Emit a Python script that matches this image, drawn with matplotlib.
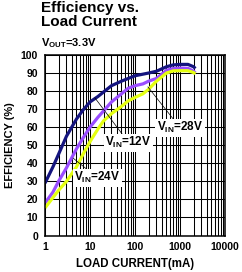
import matplotlib
matplotlib.use("Agg")
import matplotlib.pyplot as plt
from matplotlib.ticker import FixedLocator, NullFormatter, LogLocator

plt.rcParams['font.family'] = ['Liberation Sans', 'DejaVu Sans']
plt.rcParams['font.weight'] = 'bold'
plt.rcParams['mathtext.fontset'] = 'custom'
plt.rcParams['mathtext.rm'] = 'Liberation Sans:bold'
plt.rcParams['mathtext.bf'] = 'Liberation Sans:bold'
plt.rcParams['mathtext.it'] = 'Liberation Sans:bold'

# Data (load current in mA, efficiency in %)
x_12v = [1, 1.5, 2, 3, 5, 7, 10, 15, 20, 30, 50, 100, 200, 300, 500, 700, 1000, 1500, 2000, 2200]
eff_12v = [29, 38, 45, 55, 64.5, 69.5, 74, 77, 79.5, 83, 85.5, 88.5, 90, 91, 93.5, 94.5, 94.8, 94.8, 93.5, 92.5]

x_24v = [1, 1.5, 2, 3, 5, 7, 10, 15, 20, 30, 50, 70, 100, 150, 200, 300, 500, 700, 1000, 1500, 2000, 2200]
eff_24v = [18, 24, 30, 37.5, 48, 54, 60, 65.5, 69, 74, 78.5, 81.5, 83, 84, 85.5, 87, 91.5, 92.5, 92.8, 92.6, 91, 90]

x_28v = [1, 1.5, 2, 3, 5, 7, 10, 15, 20, 30, 50, 70, 100, 150, 200, 300, 500, 700, 1000, 1500, 2000, 2200]
eff_28v = [15.3, 21, 25, 30, 38, 45, 52, 59, 63.5, 67.5, 71.5, 74.5, 76.5, 78.5, 81, 85.5, 90, 91.2, 91.3, 91.3, 90.3, 89.5]

x_ticks = [1, 10, 100, 1000, 10000]
x_tick_labels = ['1', '10', '100', '1000', '10000']
y_ticks = list(range(0, 101, 10))

series_labels = [r'V$_\mathrm{IN}$=12V', r'V$_\mathrm{IN}$=24V', r'V$_\mathrm{IN}$=28V']
label_pos = [(72, 51.5), (14.7, 31.9), (1000, 59.8)]
leader_start = [(12.9, 76.2), (4.2, 42.9), (194, 82.3)]

colors = ['#14147e', '#9a4dff', '#e4ff10']

fig = plt.figure(figsize=(2.42, 2.72), dpi=100)
ax = fig.add_axes([45/242, (272-235.5)/272, 180/242, 180.5/272])
ax.set_xscale('log')
ax.set_xlim(1, 10000)
ax.set_ylim(0, 100)

ax.plot(x_12v, eff_12v, color=colors[0], lw=2.3, zorder=3, solid_capstyle='butt')
ax.plot(x_24v, eff_24v, color=colors[1], lw=2.3, zorder=3, solid_capstyle='butt')
ax.plot(x_28v, eff_28v, color=colors[2], lw=2.3, zorder=3, solid_capstyle='butt')

ax.xaxis.set_major_locator(FixedLocator(x_ticks))
ax.set_xticklabels(x_tick_labels)
ax.xaxis.set_minor_locator(LogLocator(base=10, subs=range(2, 10)))
ax.xaxis.set_minor_formatter(NullFormatter())
ax.set_yticks(y_ticks)
ax.set_yticklabels([str(v) for v in y_ticks])
ax.tick_params(which='both', length=0, labelsize=7.5, pad=5)
for lbl in ax.get_xticklabels() + ax.get_yticklabels():
    lbl.set_fontweight('bold')

ax.grid(True, which='major', axis='both', color='black', lw=0.75, zorder=1)
ax.grid(True, which='minor', axis='x', color='black', lw=0.75, zorder=1)
for s in ax.spines.values():
    s.set_linewidth(1.1)
    s.set_zorder(4)

for (lx, ly), (sx, sy), txt in zip(label_pos, leader_start, series_labels):
    ax.plot([sx, lx], [sy, ly], color='black', lw=0.5, zorder=5)
    ax.text(lx, ly, txt, fontsize=8.5, fontweight='bold', ha='center', va='center', zorder=6,
            bbox=dict(facecolor='white', edgecolor='none', pad=1.0))

ax.set_xlabel('LOAD CURRENT(mA)', fontsize=8.3, fontweight='bold', labelpad=4)
ax.set_ylabel('EFFICIENCY (%)', fontsize=8, fontweight='bold', labelpad=4)

fig.text(41/242, 1 - 12/272, 'Efficiency vs.', fontsize=11, fontweight='bold', va='baseline', ha='left')
fig.text(41/242, 1 - 25.5/272, 'Load Current', fontsize=11, fontweight='bold', va='baseline', ha='left')
fig.text(41/242, 1 - 46.5/272, r'V$_\mathrm{OUT}$=3.3V', fontsize=8, fontweight='bold', va='baseline', ha='left')

fig.savefig('out.png', dpi=100)
